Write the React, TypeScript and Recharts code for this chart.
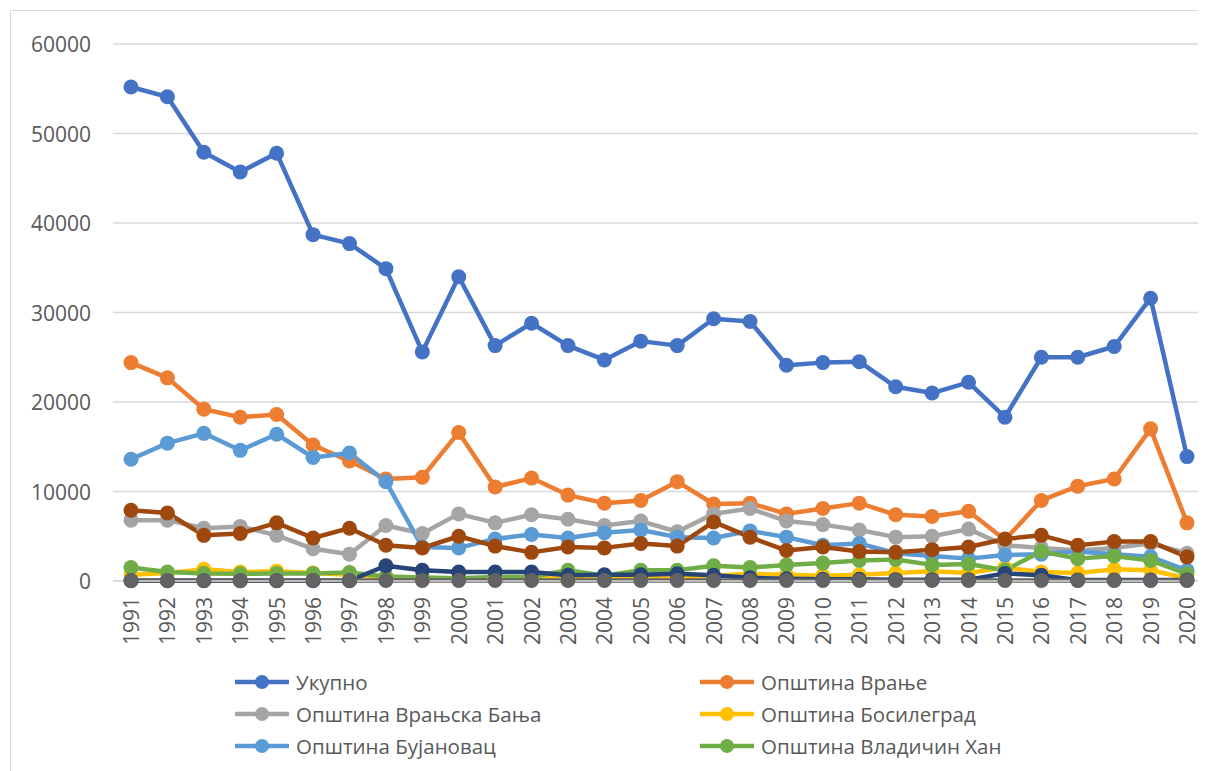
import React from 'react';
import { LineChart, Line, XAxis, YAxis, CartesianGrid, Legend } from 'recharts';

const years = [
  '1991', '1992', '1993', '1994', '1995', '1996', '1997', '1998', '1999', '2000',
  '2001', '2002', '2003', '2004', '2005', '2006', '2007', '2008', '2009', '2010',
  '2011', '2012', '2013', '2014', '2015', '2016', '2017', '2018', '2019', '2020',
];

const ukupno = [55200, 54100, 47900, 45700, 47800, 38700, 37700, 34900, 25600, 34000, 26300, 28800, 26300, 24700, 26800, 26300, 29300, 29000, 24100, 24400, 24500, 21700, 21000, 22200, 18300, 25000, 25000, 26200, 31600, 13900];
const vranje = [24400, 22700, 19200, 18300, 18600, 15200, 13400, 11400, 11600, 16600, 10500, 11500, 9600, 8700, 9000, 11100, 8600, 8700, 7500, 8100, 8700, 7400, 7200, 7800, 4600, 9000, 10600, 11400, 17000, 6500];
const vranjskaBanja = [6800, 6800, 5900, 6100, 5100, 3600, 3000, 6200, 5300, 7500, 6500, 7400, 6900, 6200, 6700, 5500, 7500, 8100, 6700, 6300, 5700, 4900, 5000, 5800, 4000, 3700, 3400, 3700, 4200, 3100];
const bosilegrad = [700, 900, 1300, 1000, 1100, 900, 700, 400, 300, 300, 300, 300, 300, 300, 300, 300, 600, 800, 700, 600, 700, 900, 1100, 900, 1500, 1000, 900, 1300, 1200, 300];
const bujanovac = [13600, 15400, 16500, 14600, 16400, 13800, 14300, 11100, 3800, 3700, 4700, 5200, 4800, 5400, 5700, 4900, 4800, 5600, 4900, 4000, 4200, 3100, 2800, 2500, 2900, 3000, 3300, 3000, 2700, 1200];
const vladicinHan = [1500, 1000, 850, 800, 850, 850, 950, 500, 400, 300, 450, 450, 1200, 600, 1200, 1200, 1700, 1500, 1800, 2000, 2300, 2400, 1800, 1900, 1200, 3300, 2500, 2800, 2300, 800];
const presevo = [30, 30, 30, 30, 30, 30, 30, 1700, 1200, 1000, 1000, 1000, 650, 700, 700, 800, 650, 350, 250, 200, 200, 150, 150, 150, 850, 650, 100, 100, 100, 100];
const surdulica = [7900, 7600, 5100, 5300, 6500, 4800, 5900, 4000, 3700, 5000, 3900, 3200, 3800, 3700, 4200, 3900, 6600, 4900, 3400, 3800, 3300, 3200, 3500, 3800, 4700, 5100, 4000, 4400, 4400, 2700];
const trgoviste = [60, 60, 60, 60, 60, 60, 60, 60, 60, 60, 60, 60, 60, 60, 60, 60, 60, 60, 60, 60, 60, 60, 60, 60, 60, 60, 60, 60, 60, 60];

const yTicks = [0, 10000, 20000, 30000, 40000, 50000, 60000];

const series = [
  { key: 'ukupno', name: 'Укупно', color: '#4472C4', values: ukupno },
  { key: 'vranje', name: 'Општина Врање', color: '#ED7D31', values: vranje },
  { key: 'vranjskaBanja', name: 'Општина Врањска Бања', color: '#A5A5A5', values: vranjskaBanja },
  { key: 'bosilegrad', name: 'Општина Босилеград', color: '#FFC000', values: bosilegrad },
  { key: 'bujanovac', name: 'Општина Бујановац', color: '#5B9BD5', values: bujanovac },
  { key: 'vladicinHan', name: 'Општина Владичин Хан', color: '#70AD47', values: vladicinHan },
  { key: 'presevo', name: 'Општина Прешево', color: '#264478', values: presevo },
  { key: 'surdulica', name: 'Општина Сурдулица', color: '#9E480E', values: surdulica },
  { key: 'trgoviste', name: 'Општина Трговиште', color: '#636363', values: trgoviste },
];

// the legend box is cut by the chart frame: only the first three rows fit
const visibleLegendEntries = 6;

const data = years.map((year, i) => {
  const row: Record<string, string | number> = { year };
  series.forEach((s) => { row[s.key] = s.values[i]; });
  return row;
});

const FONT = '"Open Sans", sans-serif';
const TEXT = '#595959';

const XTick = ({ x, y, payload }: any) => (
  <text
    x={x}
    y={y + 16}
    transform={`rotate(-90 ${x} ${y + 16})`}
    textAnchor="end"
    dominantBaseline="central"
    fontSize={21}
    fontFamily={FONT}
    fill={TEXT}
  >
    {payload.value}
  </text>
);

const YTick = ({ x, y, payload }: any) => (
  <text x={x - 22} y={y} textAnchor="end" dominantBaseline="central" fontSize={21} fontFamily={FONT} fill={TEXT}>
    {payload.value}
  </text>
);

const LegendBox = ({ payload }: any) => {
  const byName = new Map((payload || []).map((p: any) => [p.value, p]));
  const items = series
    .slice(0, visibleLegendEntries)
    .map((s) => (byName.get(s.name) as any) || { value: s.name, color: s.color });
  return (
    <div
      style={{
        display: 'grid',
        gridTemplateColumns: '465px 465px',
        gridAutoRows: '32px',
        paddingLeft: 224,
        fontFamily: FONT,
        fontSize: 20.5,
        color: TEXT,
      }}
    >
      {items.map((p: any) => (
        <div key={p.value} style={{ display: 'flex', alignItems: 'center', whiteSpace: 'nowrap' }}>
          <svg width={54} height={20} style={{ marginRight: 7, flex: 'none' }}>
            <line x1={0} y1={10} x2={54} y2={10} stroke={p.color} strokeWidth={4.5} />
            <circle cx={27} cy={10} r={7} fill={p.color} />
          </svg>
          <span>{p.value}</span>
        </div>
      ))}
    </div>
  );
};

export default function App() {
  return (
    <div
      style={{
        marginLeft: 2,
        marginTop: 2,
        width: 1210,
        height: 900,
        border: '1px solid #d9d9d9',
        background: '#fff',
      }}
    >
      <LineChart width={1200} height={800} data={data} margin={{ top: 33, right: 6, left: 0, bottom: 170 }}>
        <CartesianGrid vertical={false} stroke="#d9d9d9" strokeWidth={1.3} />
        <XAxis
          dataKey="year"
          interval={0}
          height={60}
          padding={{ left: 18, right: 18 }}
          axisLine={{ stroke: '#d9d9d9', strokeWidth: 1.3 }}
          tickLine={false}
          tickSize={0}
          tickMargin={0}
          tick={<XTick />}
        />
        <YAxis
          width={102}
          domain={[0, 60000]}
          ticks={yTicks}
          axisLine={false}
          tickLine={false}
          tickSize={0}
          tickMargin={0}
          tick={<YTick />}
        />
        <Legend
          layout="horizontal"
          verticalAlign="middle"
          align="center"
          wrapperStyle={{ left: 0, top: 655, width: 1200 }}
          content={<LegendBox />}
        />
        {series.map((s) => (
          <Line
            key={s.key}
            type="linear"
            dataKey={s.key}
            name={s.name}
            stroke={s.color}
            strokeWidth={4.5}
            strokeLinejoin="round"
            dot={{ r: 7.5, fill: s.color, stroke: s.color, strokeWidth: 0 }}
            activeDot={false}
            isAnimationActive={false}
          />
        ))}
      </LineChart>
    </div>
  );
}
